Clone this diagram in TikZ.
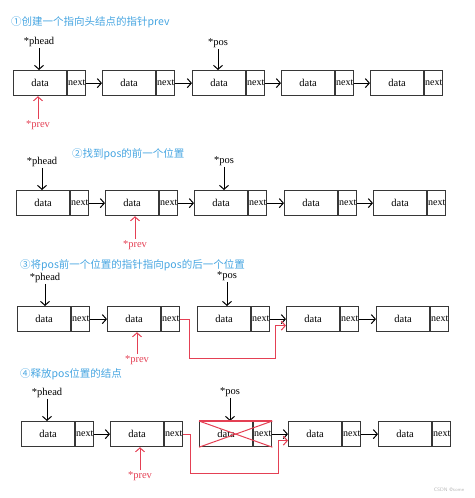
\documentclass[tikz,border=0pt]{standalone}
\usepackage{fontspec}
\setmainfont{Liberation Serif}
\newfontfamily\cjk{Noto Sans CJK SC}
\usetikzlibrary{arrows.meta}
\definecolor{boxline}{RGB}{55,55,55}
\definecolor{redc}{RGB}{228,64,84}
\definecolor{titleblue}{RGB}{70,165,225}
\begin{document}
\begin{tikzpicture}[x=1pt,y=-1pt,
 databox/.style={draw=boxline, line width=1.2pt, minimum width=53pt, minimum height=25pt, inner sep=0pt, font=\fontsize{10.5}{12}\selectfont, anchor=north west},
 nextbox/.style={draw=boxline, line width=1.2pt, minimum width=18pt, minimum height=25pt, inner sep=0pt, font=\fontsize{10}{12}\selectfont, anchor=west},
 lbl/.style={font=\fontsize{10.5}{12}\selectfont, inner sep=1pt},
 redlbl/.style={lbl, text=redc},
 ttl/.style={font=\cjk\fontsize{10.5}{13}\selectfont, text=titleblue, anchor=west, inner sep=0pt},
 arr/.style={-{Straight Barb[length=4pt,width=9pt]}, line width=1pt, draw=black},
 rarr/.style={arr, draw=redc},
]
\useasboundingbox (0,0) rectangle (474,498);

% titles
\node[ttl] (t1) at (11,22) {①创建一个指向头结点的指针prev};
\node[ttl] (t2) at (72,154) {②找到pos的前一个位置};
\node[ttl] (t3) at (20,265) {③将pos前一个位置的指针指向pos的后一个位置};
\node[ttl] (t4) at (20,374) {④释放pos位置的结点};

% panel nodes
\foreach \x [count=\i] in {13,102,192,281,370} {
  \node[databox] (p1d\i) at (\x,70) {data};
  \node[nextbox] (p1n\i) at (p1d\i.east) {next};
}
\foreach \x [count=\i] in {16,105,194,284,373} {
  \node[databox] (p2d\i) at (\x,190) {data};
  \node[nextbox] (p2n\i) at (p2d\i.east) {next};
}
\foreach \x [count=\i] in {17,107,197,286,376} {
  \node[databox] (p3d\i) at (\x,306) {data};
  \node[nextbox] (p3n\i) at (p3d\i.east) {next};
}
\foreach \x [count=\i] in {21,110,199,288,378} {
  \node[databox] (p4d\i) at (\x,421) {data};
  \node[nextbox] (p4n\i) at (p4d\i.east) {next};
}

% links
\foreach \i/\j in {1/2,2/3,3/4,4/5} {
  \draw[arr] (p1n\i.east) -- (p1d\j.west);
  \draw[arr] (p2n\i.east) -- (p2d\j.west);
}
\foreach \i/\j in {1/2,3/4,4/5} {
  \draw[arr] (p3n\i.east) -- (p3d\j.west);
  \draw[arr] (p4n\i.east) -- (p4d\j.west);
}

% pointer labels
\node[lbl] (ph1) at (39,42) {*phead};
\node[lbl] (ps1) at (218,43) {*pos};
\node[redlbl] (pv1) at (38,125) {*prev};
\node[lbl] (ph2) at (42,162) {*phead};
\node[lbl] (ps2) at (224,161) {*pos};
\node[redlbl] (pv2) at (135,245) {*prev};
\node[lbl] (ph3) at (45,278) {*phead};
\node[lbl] (ps3) at (227,276) {*pos};
\node[redlbl] (pv3) at (137,360) {*prev};
\node[lbl] (ph4) at (47,393) {*phead};
\node[lbl] (ps4) at (230,392) {*pos};
\node[redlbl] (pv4) at (140,476) {*prev};

\foreach \k in {1,2,3,4} {
  \draw[arr] (ph\k.south) -- (ph\k.south |- p\k d1.north);
  \draw[arr] (ps\k.south) -- (ps\k.south |- p\k d3.north);
}
\draw[rarr] (pv1.north) -- (pv1.north |- p1d1.south);
\draw[rarr] (pv2.north) -- (pv2.north |- p2d2.south);
\draw[rarr] (pv3.north) -- (pv3.north |- p3d2.south);
\draw[rarr] (pv4.north) -- (pv4.north |- p4d2.south);

% red relinks
\draw[rarr] (p3n2.east) -- ++(9,0) |- (275,358) |- ([yshift=-6.5pt]p3d4.west);
\draw[rarr] (p4n2.east) -- ++(7,0) |- (278,473) |- ([yshift=-6.5pt]p4d4.west);

% crossed-out node
\draw[redc, line width=1pt] (p4d3.north west) -- (p4n3.south east);
\draw[redc, line width=1pt] (p4d3.south west) -- (p4n3.north east);
\draw[redc, line width=1.2pt] (p4d3.north west) -- (p4n3.north east);

% watermark
\node[font=\sffamily\fontsize{5}{6}\selectfont, text=gray!55, inner sep=0pt] (wm) at (449,490) {CSDN @some};
\end{tikzpicture}
\end{document}
